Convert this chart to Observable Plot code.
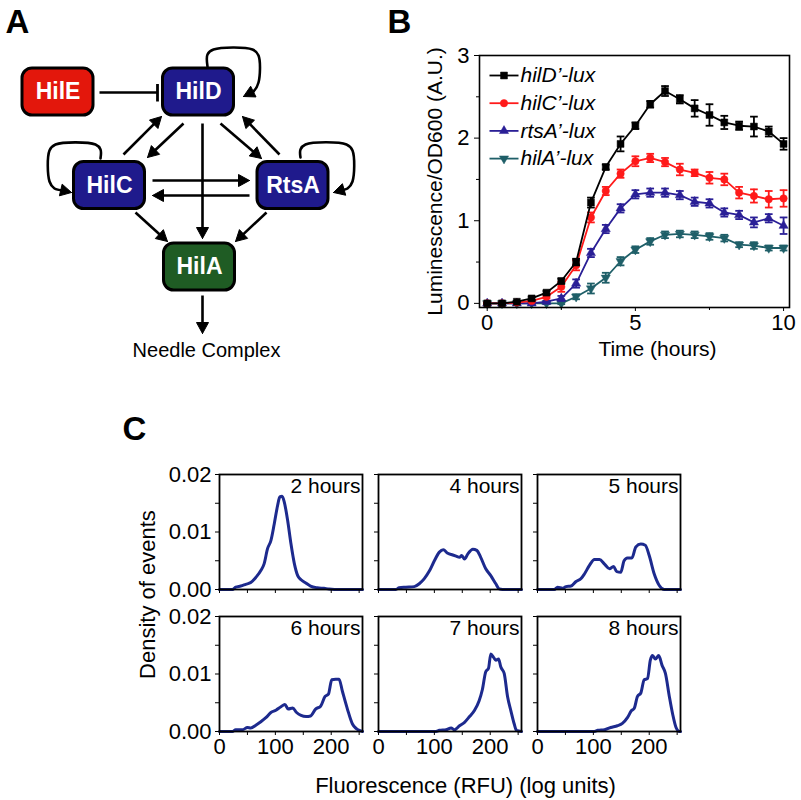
<!DOCTYPE html>
<html><head><meta charset="utf-8">
<script src="https://cdn.jsdelivr.net/npm/d3@7"></script>
<script src="https://cdn.jsdelivr.net/npm/@observablehq/plot@0.6"></script>
<style>
body{margin:0;background:#fff;}
#fig{position:relative;width:801px;height:800px;overflow:hidden;background:#fff;}
</style></head><body><div id="fig"></div>
<script>
// ---------- Panel B data ----------
const timeHours = [0,0.5,1,1.5,2,2.5,3,3.5,4,4.5,5,5.5,6,6.5,7,7.5,8,8.5,9,9.5,10];
const hilDLux = [0,0,0.02,0.06,0.13,0.27,0.50,1.22,1.65,1.93,2.15,2.41,2.57,2.47,2.36,2.28,2.19,2.15,2.14,2.08,1.93];
const hilDErr = [0.01,0.01,0.01,0.02,0.02,0.03,0.04,0.06,0.03,0.09,0.04,0.04,0.06,0.05,0.10,0.13,0.08,0.05,0.12,0.06,0.07];
const hilCLux = [0,0,0.01,0.03,0.08,0.20,0.46,1.04,1.36,1.57,1.72,1.76,1.71,1.62,1.58,1.52,1.50,1.34,1.30,1.26,1.27];
const hilCErr = [0.01,0.01,0.01,0.01,0.02,0.06,0.06,0.06,0.05,0.05,0.06,0.05,0.05,0.07,0.04,0.07,0.07,0.07,0.08,0.10,0.10];
const rtsALux = [0,0,0,0,0.02,0.06,0.24,0.61,0.90,1.15,1.32,1.34,1.34,1.31,1.23,1.21,1.10,1.07,0.98,1.03,0.94];
const rtsAErr = [0.01,0.01,0.01,0.01,0.01,0.03,0.05,0.05,0.05,0.05,0.05,0.05,0.05,0.05,0.05,0.05,0.05,0.05,0.06,0.05,0.10];
const hilALux = [0,0,0,0,0,0,0.08,0.18,0.31,0.51,0.65,0.75,0.83,0.84,0.83,0.81,0.79,0.71,0.70,0.67,0.67];
const hilAErr = [0.01,0.01,0.01,0.01,0.01,0.01,0.03,0.06,0.06,0.05,0.04,0.04,0.04,0.04,0.04,0.04,0.04,0.03,0.04,0.03,0.03];
const seriesNames = ["hilD’-lux","hilC’-lux","rtsA’-lux","hilA’-lux"];
const seriesColors = ["#000000","#ff1a1a","#2a1f96","#1f5f68"];
const bYTicks = [0,1,2,3];
const bXTicks = [0,5,10];

// ---------- Panel C data ----------
const cPanelLabels = ["2 hours","4 hours","5 hours","6 hours","7 hours","8 hours"];
const fluor2h = [0,23,29,38,47,56,65,74,80,86,92,98,104,108,112,116,122,128,134,140,146,155,163,175,187,196,214,256];
const dens2h  = [0,0,0.0004,0.0006,0.0009,0.0012,0.0021,0.0033,0.0045,0.0071,0.0085,0.0114,0.0146,0.0161,0.0162,0.0152,0.0120,0.0079,0.0045,0.0024,0.0017,0.0011,0.0006,0.0003,0.0002,0.0001,0,0];
const fluor4h = [0,31,37,49,64,73,82,91,100,109,116,124,133,139,145,149,154,160,169,176,183,192,201,210,216,222,256];
const dens4h  = [0,0,0.0003,0.0004,0.0005,0.0010,0.0019,0.0032,0.0050,0.0065,0.0069,0.0063,0.0060,0.0058,0.0056,0.0059,0.0053,0.0062,0.0070,0.0068,0.0056,0.0036,0.0024,0.0010,0.0001,0,0];
const fluor5h = [0,30,36,45,51,60,69,78,84,93,102,111,120,129,136,142,149,155,161,169,176,185,193,200,209,218,227,256];
const dens5h  = [0,0,0.0004,0.0002,0.0005,0.0006,0.0014,0.0019,0.0027,0.0042,0.0052,0.0052,0.0044,0.0036,0.0040,0.0031,0.0030,0.0050,0.0055,0.0055,0.0074,0.0079,0.0077,0.0059,0.0027,0.0007,0,0];
const fluor6h = [0,23,29,41,50,56,65,74,83,92,101,110,117,123,131,138,146,155,163,172,181,189,195,201,208,214,220,229,238,245,253,256];
const dens6h  = [0,0,0.0003,0.0003,0.0007,0.0006,0.0011,0.0017,0.0024,0.0033,0.0037,0.0043,0.0047,0.0039,0.0041,0.0033,0.0028,0.0026,0.0027,0.0039,0.0044,0.0061,0.0065,0.0090,0.0091,0.0091,0.0070,0.0039,0.0013,0.0005,0.0001,0];
const fluor7h = [0,103,109,121,130,136,145,154,163,172,180,186,192,197,201,206,210,215,219,225,231,237,243,247,256];
const dens7h  = [0,0,0.0002,0.0003,0.0006,0.0003,0.0010,0.0016,0.0026,0.0037,0.0053,0.0073,0.0104,0.0110,0.0135,0.0129,0.0124,0.0126,0.0112,0.0101,0.0061,0.0036,0.0013,0.0002,0];
const fluor8h = [0,102,108,120,131,143,152,161,168,173,179,185,191,197,202,206,211,217,223,229,236,242,248,254,256];
const dens8h  = [0,0,0.0002,0.0003,0.0007,0.0010,0.0014,0.0024,0.0036,0.0040,0.0061,0.0067,0.0090,0.0092,0.0124,0.0132,0.0126,0.0132,0.0115,0.0101,0.0061,0.0030,0.0007,0,0];
const cFluor = [fluor2h,fluor4h,fluor5h,fluor6h,fluor7h,fluor8h];
const cDens = [dens2h,dens4h,dens5h,dens6h,dens7h,dens8h];
const cXTicks = [0,50,100,150,200,250];
const cXLabels = [0,100,200];
const cYTicks = [0,0.005,0.01,0.015,0.02];
const cYLabels = [0,0.01,0.02];

// ---------- Panel A diagram data ----------
const nodeNames = ["HilE","HilD","HilC","RtsA","HilA"];
const nodeColors = ["#e3170c","#1f1a8c","#1f1a8c","#1f1a8c","#1f5c24"];

// ---------- layout ----------
const FONT = '"Liberation Sans", Arial, Helvetica, sans-serif';
const fig = document.getElementById("fig");
function place(el, left, top){ el.style.position="absolute"; el.style.left=left+"px"; el.style.top=top+"px"; fig.appendChild(el); }
const baseStyle = {fontFamily: FONT, background: "transparent", overflow: "visible", color: "black"};

const triangleDown = { draw(context, size){ const y = -Math.sqrt(size/(Math.sqrt(3)*3)); context.moveTo(0, -y*2); context.lineTo(-Math.sqrt(3)*y, y); context.lineTo(Math.sqrt(3)*y, y); context.closePath(); } };
const seriesSymbols = ["square","circle","triangle", triangleDown];
const seriesR = [3.9, 3.7, 3.4, 3.4];
const seriesValues = [hilDLux, hilCLux, rtsALux, hilALux];
const seriesErrors = [hilDErr, hilCErr, rtsAErr, hilAErr];

// ---------- Panel B ----------
{
  const marks = [];
  for (let s = 3; s >= 0; s--) {
    const rows = timeHours.map((t,i)=>({t, v: seriesValues[s][i], e: seriesErrors[s][i]}));
    const c = seriesColors[s];
    marks.push(Plot.line(rows, {x:"t", y:"v", stroke:c, strokeWidth:1.8}));
    marks.push(Plot.ruleX(rows, {x:"t", y1:d=>d.v-d.e, y2:d=>d.v+d.e, stroke:c, strokeWidth:1.8}));
    marks.push(Plot.link(rows, {x1:d=>d.t-0.13, x2:d=>d.t+0.13, y1:d=>d.v+d.e, y2:d=>d.v+d.e, stroke:c, strokeWidth:1.8}));
    marks.push(Plot.link(rows, {x1:d=>d.t-0.13, x2:d=>d.t+0.13, y1:d=>d.v-d.e, y2:d=>d.v-d.e, stroke:c, strokeWidth:1.8}));
    marks.push(Plot.dot(rows, {x:"t", y:"v", symbol: seriesSymbols[s], r: seriesR[s], fill:c, stroke:c, strokeWidth:0.5}));
  }
  const svg = Plot.plot({
    width: 401, height: 370,
    marginLeft: 79, marginRight: 12, marginTop: 55, marginBottom: 63,
    x: {domain: [-0.26, 10.2]},
    y: {domain: [-0.05, 3.0]},
    style: {...baseStyle, fontSize: "22px"},
    marks: [
      ...marks,
      Plot.frame({stroke:"black", strokeWidth:1.6}),
      Plot.axisY({ticks: bYTicks, tickSize: 5, tickPadding: 5, tickFormat: d=>String(d), label: null}),
      Plot.axisY({ticks: [0.5,1.5,2.5], tickSize: 3, tickFormat: ()=>"", label: null}),
      Plot.axisX({ticks: bXTicks, tickSize: 4, tickPadding: 3, tickFormat: d=>String(d), label: null}),
      Plot.axisX({ticks: [2.5,7.5], tickSize: 3, tickFormat: ()=>"", label: null})
    ]
  });
  place(svg, 400, 0);
}

// ---------- Panel C ----------
const cLeft = [218.7, 377.5, 536.5];
const cTop = [474, 616];
const fmt2 = d3.format(".2f");
for (let idx = 0; idx < 6; idx++) {
  const col = idx % 3, row = Math.floor(idx/3);
  const mL = col===0 ? 80 : 8, mR = 8, mT = 6, mB = row===1 ? 44 : 10;
  const rows = cFluor[idx].map((x,i)=>({x, y: cDens[idx][i]}));
  const svg = Plot.plot({
    width: mL+143+mR, height: mT+115+mB,
    marginLeft: mL, marginRight: mR, marginTop: mT, marginBottom: mB,
    x: {domain: [0,256]}, y: {domain: [0,0.02]},
    style: {...baseStyle, fontSize: "22px"},
    marks: [
      Plot.line(rows, {x:"x", y:"y", stroke:"#1d2a8e", strokeWidth:3, curve:"monotone-x"}),
      Plot.frame({stroke:"black", strokeWidth:1.8}),
      Plot.axisX({ticks: cXTicks, tickSize: 4, tickPadding: 3, label: null,
        tickFormat: row===1 ? (d => cXLabels.includes(d) ? String(d) : "") : (()=>"")}),
      Plot.axisY({ticks: cYTicks, tickSize: 4, tickPadding: 4, label: null,
        tickFormat: col===0 ? (d => cYLabels.includes(d) ? fmt2(d) : "") : (()=>"")}),
      Plot.text([cPanelLabels[idx]], {frameAnchor:"top-right", text:d=>d, dx:-2, dy:4, lineAnchor:"top", fontSize:21})
    ]
  });
  place(svg, cLeft[col]-mL, cTop[row]-mT);
}

// ---------- Annotation layer: Panel A diagram, legend, titles ----------
{
  const nodeCX = [57.5, 198, 109, 292.5, 199];
  const nodeCY = [91.5, 91.5, 185, 185, 266.5];
  const nodes = nodeNames.map((n,i)=>({name:n, cx:nodeCX[i], cy:nodeCY[i], color:nodeColors[i]}));
  const NW = 71, NH = 47;
  const edges = [
    [123,154,161,116],[183,123,147,157],[220,123,261,158],[279,154,242,116],
    [202,123,202,238],[152,180,249,180],[249,195,152,195],[135,212,167,241],
    [266,212,235,241],[202,295,202,333]
  ];
  const loops = [
    [[207,66],[207,54],[213,49],[252,49],[258,55],[258,82],[253,91],[243,96]],
    [[100,158],[100,149],[95,144],[55,144],[49,150],[49,181],[54,188],[71,192]],
    [[300,157],[300,149],[305,144],[346,144],[352,150],[352,181],[347,188],[333,192]]
  ];
  const L = 11, HW = 6;
  const heads = [], shafts = [];
  function addHead(x1,y1,x2,y2,id){
    const dx=x2-x1, dy=y2-y1, len=Math.hypot(dx,dy), ux=dx/len, uy=dy/len;
    const bx=x2-ux*L, by=y2-uy*L;
    heads.push({id,x:x2,y:y2},{id,x:bx-uy*HW,y:by+ux*HW},{id,x:bx+uy*HW,y:by-ux*HW},{id,x:x2,y:y2});
    return [x2-ux*(L-2), y2-uy*(L-2)];
  }
  edges.forEach((e,i)=>{ const [ex,ey]=addHead(e[0],e[1],e[2],e[3],"e"+i); shafts.push({x1:e[0],y1:e[1],x2:ex,y2:ey}); });
  const loopPts = [];
  loops.forEach((lp,i)=>{
    const n = lp.length;
    const [ex,ey] = addHead(lp[n-2][0],lp[n-2][1],lp[n-1][0],lp[n-1][1],"l"+i);
    lp.forEach((p,j)=>loopPts.push({id:"l"+i, x: j===n-1?ex:p[0], y: j===n-1?ey:p[1]}));
  });

  const legendRows = seriesNames.map((n,i)=>({name:n, i, y: 75 + i*27.7}));

  const ann = Plot.plot({
    width: 801, height: 800, margin: 0,
    x: {type:"identity", axis:null}, y: {type:"identity", axis:null},
    style: {...baseStyle, fontSize: "20px"},
    marks: [
      // Panel A
      Plot.link(shafts, {x1:"x1",y1:"y1",x2:"x2",y2:"y2", stroke:"black", strokeWidth:2.6}),
      Plot.line(loopPts, {x:"x", y:"y", z:"id", stroke:"black", strokeWidth:2.6, curve:"catmull-rom"}),
      Plot.line(heads, {x:"x", y:"y", z:"id", fill:"black", stroke:"black", strokeWidth:1, strokeLinejoin:"miter"}),
      Plot.link([{x1:99,y1:92,x2:157,y2:92}], {x1:"x1",y1:"y1",x2:"x2",y2:"y2", stroke:"black", strokeWidth:2.6}),
      Plot.link([{x1:157,y1:83.5,x2:157,y2:101}], {x1:"x1",y1:"y1",x2:"x2",y2:"y2", stroke:"black", strokeWidth:2.8}),
      Plot.rect(nodes, {x1:d=>d.cx-NW/2, x2:d=>d.cx+NW/2, y1:d=>d.cy-NH/2, y2:d=>d.cy+NH/2, rx:10, fill:"color", stroke:"black", strokeWidth:3}),
      Plot.text(nodes, {x:"cx", y:"cy", text:"name", fill:"white", fontWeight:"bold", fontSize:23}),
      Plot.text(["Needle Complex"], {x:206, y:350, text:d=>d, fontSize:20}),
      // Panel letters
      Plot.text(["A"], {x:5, y:22, text:d=>d, textAnchor:"start", fontWeight:"bold", fontSize:33}),
      Plot.text(["B"], {x:387, y:22, text:d=>d, textAnchor:"start", fontWeight:"bold", fontSize:33}),
      Plot.text(["C"], {x:122, y:429, text:d=>d, textAnchor:"start", fontWeight:"bold", fontSize:33}),
      // Panel B titles
      Plot.text(["Luminescence/OD600 (A.U.)"], {x:435, y:181, text:d=>d, rotate:-90, fontSize:21}),
      Plot.text(["Time (hours)"], {x:657, y:349, text:d=>d, fontSize:21}),
      // Panel B legend
      Plot.link(legendRows, {x1:489, x2:518, y1:"y", y2:"y", stroke:d=>seriesColors[d.i], strokeWidth:1.8}),
      ...[0,1,2,3].map(s => Plot.dot(legendRows.filter(d=>d.i===s), {x:503.5, y:"y", symbol:seriesSymbols[s], r:seriesR[s], fill:seriesColors[s], stroke:seriesColors[s], strokeWidth:0.5})),
      Plot.text(legendRows, {x:520, y:"y", text:"name", textAnchor:"start", fontStyle:"italic", fontSize:21}),
      // Panel C titles
      Plot.text(["Density of events"], {x:147, y:594, text:d=>d, rotate:-90, fontSize:22}),
      Plot.text(["Fluorescence (RFU) (log units)"], {x:465, y:785, text:d=>d, fontSize:22})
    ]
  });
  place(ann, 0, 0);
}
</script></body></html>
